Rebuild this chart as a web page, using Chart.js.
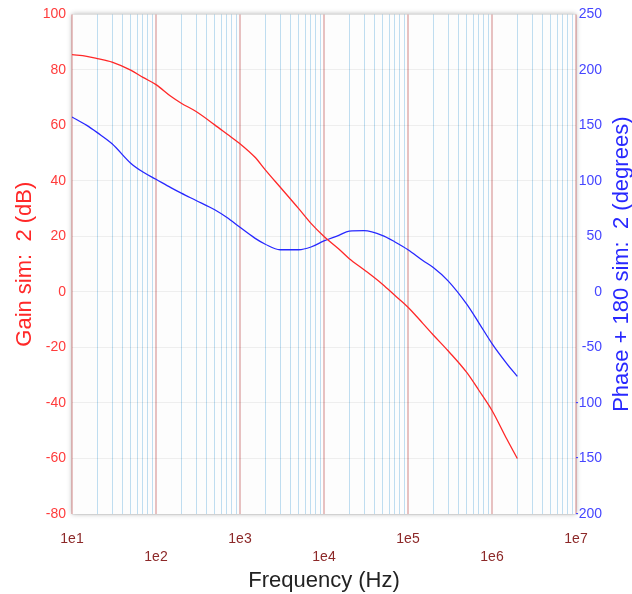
<!DOCTYPE html>
<html>
<head>
<meta charset="utf-8">
<script src="https://cdn.jsdelivr.net/npm/chart.js@4"></script>
<style>
  html, body { margin: 0; padding: 0; background: #ffffff; }
  #wrap { width: 632px; height: 594px; }
</style>
</head>
<body>
<div id="wrap"><canvas id="bodeChart" width="632" height="594"></canvas></div>
<script>
const freqHz = [10, 15, 20, 30, 50, 70,
    100, 150, 200, 300, 500, 700,
    1e3, 1.5e3, 2e3, 3e3, 5e3, 7e3,
    1e4, 1.5e4, 2e4, 3e4, 5e4, 7e4,
    1e5, 1.5e5, 2e5, 3e5, 5e5, 7e5,
    1e6, 1.5e6, 2e6];
const gainDb = [85.5, 84.9, 84.1, 82.8, 79.9, 77.3,
    74.7, 70.5, 68.0, 65.0, 60.2, 56.9,
    53.4, 48.6, 44.0, 37.8, 30.0, 24.7,
    20.0, 15.5, 12.0, 8.0, 2.7, -1.3,
    -5.5, -11.3, -15.5, -21.2, -29.0, -35.5,
    -42.7, -53.0, -60.0];
const phaseDeg = [157.5, 150, 143.5, 133.5, 116, 108,
    101.5, 94, 89, 82.4, 74, 67,
    58.2, 48.5, 43, 38, 38, 40.5,
    46, 51, 54.8, 55.2, 50.8, 45,
    38, 28.3, 22, 10, -11, -28,
    -46.5, -64.5, -76];
const decadeLabels = ['1e1', '1e2', '1e3', '1e4', '1e5', '1e6', '1e7'];
const decades = [10, 100, 1e3, 1e4, 1e5, 1e6, 1e7];
const minorSteps = [1, 2, 3, 4, 5, 6, 7, 8, 9];

const font = '"Liberation Sans", Arial, Helvetica, sans-serif';
const red = 'rgb(255, 40, 40)';
const blue = 'rgb(40, 40, 255)';
const phaseTitle = 'Phase + 180 sim:  2 (degrees)';

function isDecade(v) {
    const l = Math.log10(v);
    return Math.abs(l - Math.round(l)) < 1e-9;
}

// soft framed plot area
const plotFrame = {
    id: 'plotFrame',
    beforeDraw(chart) {
        const a = chart.chartArea;
        const ctx = chart.ctx;
        ctx.save();
        ctx.shadowColor = 'rgba(0, 0, 0, 0.3)';
        ctx.shadowBlur = 5;
        ctx.fillStyle = '#fdfdfd';
        ctx.fillRect(a.left, a.top, a.right - a.left, a.bottom - a.top);
        ctx.restore();
    },
    // right title reads bottom-to-top like the left one
    afterDraw(chart) {
        const a = chart.chartArea;
        const ctx = chart.ctx;
        ctx.save();
        ctx.translate(622, (a.top + a.bottom) / 2);
        ctx.rotate(-Math.PI / 2);
        ctx.font = '22px ' + font;
        ctx.fillStyle = blue;
        ctx.textAlign = 'center';
        ctx.textBaseline = 'middle';
        ctx.fillText(phaseTitle, 0, 0);
        ctx.restore();
    }
};

const ctx = document.getElementById('bodeChart').getContext('2d');

new Chart(ctx, {
    type: 'line',
    data: {
        datasets: [{
            label: 'Gain',
            data: freqHz.map((f, i) => ({x: f, y: gainDb[i]})),
            borderColor: red,
            backgroundColor: red,
            borderWidth: 1.3,
            pointRadius: 0,
            cubicInterpolationMode: 'monotone',
            yAxisID: 'y'
        }, {
            label: 'Phase',
            data: freqHz.map((f, i) => ({x: f, y: phaseDeg[i]})),
            borderColor: blue,
            backgroundColor: blue,
            borderWidth: 1.3,
            pointRadius: 0,
            cubicInterpolationMode: 'monotone',
            yAxisID: 'y1'
        }]
    },
    plugins: [plotFrame],
    options: {
        responsive: false,
        animation: false,
        layout: {
            padding: {top: 11, left: 0, right: 30, bottom: 0}
        },
        plugins: {
            legend: {display: false},
            tooltip: {enabled: false}
        },
        scales: {
            x: {
                type: 'logarithmic',
                min: 10,
                max: 1e7,
                afterFit: scale => { scale.height = 80; },
                afterBuildTicks: scale => {
                    const ticks = [];
                    decades.forEach((d, i) => {
                        if (i === decades.length - 1) {
                            ticks.push({value: d});
                        } else {
                            minorSteps.forEach(m => ticks.push({value: d * m}));
                        }
                    });
                    scale.ticks = ticks;
                },
                ticks: {
                    autoSkip: false,
                    maxRotation: 0,
                    minRotation: 0,
                    padding: 16,
                    color: 'rgb(140, 40, 40)',
                    font: {family: font, size: 14, lineHeight: 1.3},
                    callback: value => {
                        if (!isDecade(value)) return '';
                        const e = Math.round(Math.log10(value));
                        const label = decadeLabels[e - 1];
                        return e % 2 === 1 ? [label] : ['', label];
                    }
                },
                grid: {
                    drawTicks: false,
                    color: c => c.tick && isDecade(c.tick.value) ? 'rgba(205, 120, 120, 0.45)' : 'rgba(140, 195, 230, 0.55)',
                    lineWidth: c => c.tick && isDecade(c.tick.value) ? 2 : 1
                },
                border: {display: false},
                title: {
                    display: true,
                    text: 'Frequency (Hz)',
                    color: '#222222',
                    font: {family: font, size: 22},
                    padding: {top: 0, bottom: 0}
                }
            },
            y: {
                type: 'linear',
                position: 'left',
                min: -80,
                max: 100,
                afterFit: scale => { scale.width = 72; },
                ticks: {
                    stepSize: 20,
                    color: 'rgb(255, 60, 60)',
                    padding: 6,
                    font: {family: font, size: 14}
                },
                grid: {
                    drawTicks: false,
                    color: 'rgba(0, 0, 0, 0.06)'
                },
                border: {display: false},
                title: {
                    display: true,
                    text: 'Gain sim:  2 (dB)',
                    color: red,
                    font: {family: font, size: 22},
                    padding: {top: 12, bottom: 0}
                }
            },
            y1: {
                type: 'linear',
                position: 'right',
                min: -200,
                max: 250,
                afterFit: scale => { scale.width = 26; },
                ticks: {
                    stepSize: 50,
                    color: 'rgb(70, 70, 255)',
                    crossAlign: 'far',
                    padding: 0,
                    font: {family: font, size: 14}
                },
                grid: {display: false, drawTicks: false},
                border: {display: false},
                title: {display: false}
            }
        }
    }
});
</script>
</body>
</html>
